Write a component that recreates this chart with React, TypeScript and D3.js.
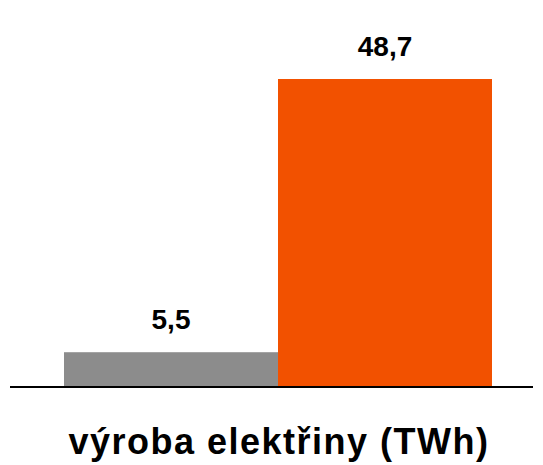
import React from "react";
import * as d3 from "d3";

const categories = ["2000", "2023"];
const values = [5.5, 48.7];
const labels = ["5,5", "48,7"];
const colors = ["#8c8c8c", "#f25100"];
const title = "výroba elektřiny (TWh)";

export default function App() {
  const W = 543, H = 465;
  const x = d3.scaleBand().domain(categories).range([64, 492]).padding(0);
  const y = d3.scaleLinear().domain([0, 48.7]).range([387, 79]);
  return (
    <svg width={W} height={H} style={{ position: "absolute", left: 0, top: 0 }} fontFamily="'Liberation Sans', Arial, sans-serif">
      {categories.map((c, i) => (
        <g key={c}>
          <rect x={x(c)} y={y(values[i])} width={x.bandwidth()} height={y(0) - y(values[i])} fill={colors[i]} />
          <text x={(x(c) as number) + x.bandwidth() / 2} y={y(values[i]) - 23} textAnchor="middle" fontWeight="bold" fontSize={28} fill="#000">{labels[i]}</text>
        </g>
      ))}
      <line x1={10} x2={533} y1={387} y2={387} stroke="#000" strokeWidth={2} />
      <text x={279} y={454} textAnchor="middle" fontWeight="bold" fontSize={36} letterSpacing={1.5} fill="#000">{title}</text>
    </svg>
  );
}
